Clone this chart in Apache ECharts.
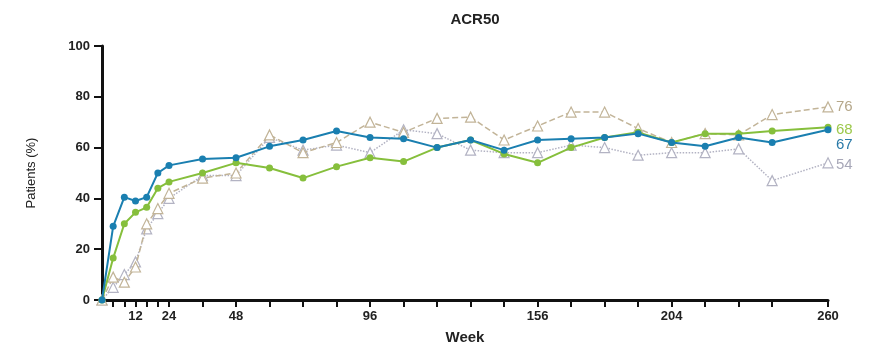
<!DOCTYPE html>
<html>
<head>
<meta charset="utf-8">
<script src="https://cdn.jsdelivr.net/npm/echarts@6/dist/echarts.min.js"></script>
<style>
  html, body { margin: 0; padding: 0; background: #fff; }
  #chart { width: 872px; height: 354px; }
</style>
</head>
<body>
<div id="chart"></div>
<script>
// weeks of each visit
const weeks = [0, 4, 8, 12, 16, 20, 24, 36, 48, 60, 72, 84, 96, 108, 120, 132, 144, 156, 168, 180, 192, 204, 216, 228, 240, 260]

// ACR50 response (%)
const blueValues = [0, 29, 40.5, 39, 40.5, 50, 53, 55.5, 56, 60.5, 63, 66.5, 64, 63.5, 60, 63, 59, 63, 63.5, 64, 65.5, 62, 60.5, 64, 62, 67]
const greenValues = [0, 16.5, 30, 34.5, 36.5, 44, 46.5, 50, 54, 52, 48, 52.5, 56, 54.5, 60, 63, 57.5, 54, 60, 64, 66, 62, 65.5, 65.5, 66.5, 68]
const tanValues = [0, 9, 7, 13, 30, 36, 42, 48, 50, 65, 58, 62, 70, 66, 71.5, 72, 63, 68.5, 74, 74, 67.5, 62, 65.5, 65, 73, 76]
const grayValues = [0, 5, 10, 15, 28, 34, 40, 49, 49, 64, 59, 61, 58, 67, 65.5, 59, 58, 58, 61, 60, 57, 58, 58, 59.5, 47, 54]

// axis ticks / labels
const xTickValues = [4, 8, 12, 16, 20, 24, 36, 48, 60, 72, 84, 96, 108, 120, 132, 144, 156, 168, 180, 192, 204, 216, 228, 240, 260]
const xLabelValues = [12, 24, 48, 96, 156, 204, 260]

const font = 'Liberation Sans, Arial, sans-serif'

const toPairs = (values) => weeks.map((w, i) => [w, values[i]])

const chart = echarts.init(document.getElementById('chart'))

const endLabel = (color, dy) => ({
  show: true,
  color,
  fontFamily: font,
  fontSize: 15,
  distance: 8,
  offset: [0, dy],
  formatter: (p) => String(p.value[1])
})

chart.setOption({
  animation: false,
  title: {
    text: 'ACR50',
    left: 470,
    top: 7,
    textAlign: 'center',
    textStyle: { fontFamily: font, fontSize: 15, fontWeight: 'bold', color: '#222' }
  },
  grid: { left: 102, right: 44, top: 46, bottom: 54 },
  xAxis: {
    type: 'value',
    min: 0,
    max: 260,
    name: 'Week',
    nameLocation: 'middle',
    nameGap: 30,
    nameTextStyle: { fontFamily: font, fontSize: 15, fontWeight: 'bold', color: '#222' },
    axisLine: { show: true, onZero: false, lineStyle: { color: '#111', width: 3 } },
    axisTick: { show: true, customValues: xTickValues, length: 7, lineStyle: { color: '#111', width: 2 } },
    axisLabel: { customValues: xLabelValues, fontFamily: font, fontSize: 13, fontWeight: 'bold', color: '#222', margin: 10 },
    splitLine: { show: false }
  },
  yAxis: {
    type: 'value',
    min: 0,
    max: 100,
    interval: 20,
    name: 'Patients (%)',
    nameLocation: 'middle',
    nameGap: 64,
    nameTextStyle: { fontFamily: font, fontSize: 13, color: '#222' },
    axisLine: { show: true, lineStyle: { color: '#111', width: 3 } },
    axisTick: { show: true, length: 8, lineStyle: { color: '#111', width: 2 } },
    axisLabel: { fontFamily: font, fontSize: 13, fontWeight: 'bold', color: '#222', margin: 12 },
    splitLine: { show: false }
  },
  series: [
    {
      type: 'line',
      data: toPairs(grayValues),
      symbol: 'triangle',
      symbolSize: 10,
      itemStyle: { color: '#fff', borderColor: '#b3b3c3', borderWidth: 1.2 },
      lineStyle: { color: '#b3b3c3', width: 1.5, type: 'dotted' },
      endLabel: endLabel('#a8a8b8', 2),
      z: 2
    },
    {
      type: 'line',
      data: toPairs(tanValues),
      symbol: 'triangle',
      symbolSize: 10,
      itemStyle: { color: '#fff', borderColor: '#c2b498', borderWidth: 1.2 },
      lineStyle: { color: '#c2b498', width: 1.5, type: 'dashed' },
      endLabel: endLabel('#b5a78a', 0),
      z: 3
    },
    {
      type: 'line',
      data: toPairs(greenValues),
      symbol: 'circle',
      symbolSize: 7,
      itemStyle: { color: '#86bf3c' },
      lineStyle: { color: '#86bf3c', width: 2 },
      endLabel: endLabel('#9cc84a', 3),
      z: 4
    },
    {
      type: 'line',
      data: toPairs(blueValues),
      symbol: 'circle',
      symbolSize: 7,
      itemStyle: { color: '#1a7fb0' },
      lineStyle: { color: '#1a7fb0', width: 2 },
      endLabel: endLabel('#2a7aa8', 15),
      z: 5
    }
  ]
})
</script>
</body>
</html>
